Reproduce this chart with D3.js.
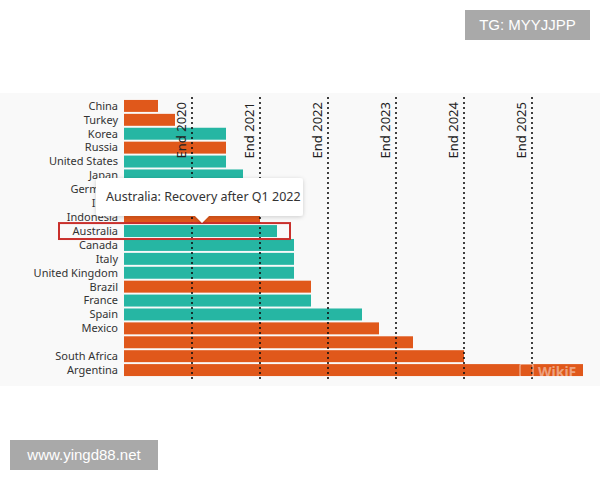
<!DOCTYPE html>
<html>
<head>
<meta charset="utf-8">
<script src="https://cdn.jsdelivr.net/npm/d3@7"></script>
<style>
  body { margin: 0; background: #fff; }
  text { font-family: "Noto Sans", "Open Sans", sans-serif; }
</style>
</head>
<body>
<script>
const svgWidth = 600;
const svgHeight = 480;

// countries, top to bottom (one label is missing in the source)
const countries = ["China", "Turkey", "Korea", "Russia", "United States", "Japan", "Germany", "India",
  "Indonesia", "Australia", "Canada", "Italy", "United Kingdom", "Brazil", "France", "Spain",
  "Mexico", "", "South Africa", "Argentina"];
// quarters after start of 2020 until output recovers
const recoveryQuarters = [2, 3, 6, 6, 6, 7, 8, 8, 8, 9, 10, 10, 10, 11, 11, 14, 15, 17, 20, 27];
// group: "adv" = advanced economy, "em" = emerging
const groups = ["em", "em", "adv", "em", "adv", "adv", "adv", "em", "em", "adv", "adv", "adv", "adv",
  "em", "adv", "adv", "em", "em", "em", "em"];
const yearMarks = [4, 8, 12, 16, 20, 24];
const yearLabels = ["End 2020", "End 2021", "End 2022", "End 2023", "End 2024", "End 2025"];

const colors = { em: "#e0581b", adv: "#26b6a3" };

const svg = d3.select("body").append("svg")
    .attr("width", svgWidth)
    .attr("height", svgHeight);

// panel background
svg.append("rect")
    .attr("x", 0).attr("y", 93)
    .attr("width", svgWidth).attr("height", 293)
    .attr("fill", "#f9f9f9");

const x = d3.scaleLinear().domain([0, 4]).range([124, 192]);
const y = d3.scaleBand().domain(d3.range(countries.length)).range([98, 378]).padding(0.14);

// bars
svg.selectAll("rect.bar").data(recoveryQuarters).join("rect")
    .attr("class", "bar")
    .attr("x", x(0))
    .attr("y", (d, i) => y(i))
    .attr("width", d => x(d) - x(0))
    .attr("height", y.bandwidth())
    .attr("fill", (d, i) => colors[groups[i]]);

// country labels
svg.selectAll("text.country").data(countries).join("text")
    .attr("class", "country")
    .attr("x", 118)
    .attr("y", (d, i) => y(i) + y.bandwidth() / 2)
    .attr("dy", "0.35em")
    .attr("text-anchor", "end")
    .attr("font-size", 11)
    .attr("fill", "#333")
    .text(d => d);

// year markers
svg.selectAll("line.year").data(yearMarks).join("line")
    .attr("class", "year")
    .attr("x1", d => x(d)).attr("x2", d => x(d))
    .attr("y1", 97).attr("y2", 379)
    .attr("stroke", "#111")
    .attr("stroke-width", 1.6)
    .attr("stroke-dasharray", "2,3");

svg.selectAll("text.year").data(yearMarks).join("text")
    .attr("class", "year")
    .attr("transform", d => `translate(${x(d) - 6},102) rotate(-90)`)
    .attr("text-anchor", "end")
    .attr("font-size", 13)
    .attr("fill", "#222")
    .text((d, i) => yearLabels[i]);

// highlight box around Australia
const ai = countries.indexOf("Australia");
svg.append("rect")
    .attr("x", 59).attr("y", y(ai) - 2)
    .attr("width", 231).attr("height", y.bandwidth() + 4)
    .attr("fill", "none")
    .attr("stroke", "#c9302c")
    .attr("stroke-width", 2);

// tooltip
const defs = svg.append("defs");
const f = defs.append("filter").attr("id", "shadow").attr("x", "-10%").attr("y", "-30%")
    .attr("width", "120%").attr("height", "160%");
f.append("feDropShadow").attr("dx", 0).attr("dy", 1).attr("stdDeviation", 2)
    .attr("flood-color", "#000").attr("flood-opacity", 0.18);

const tipX = 96, tipY = 178, tipW = 207, tipH = 38, tipPx = 202;
svg.append("path")
    .attr("d", `M${tipX},${tipY + 3} Q${tipX},${tipY} ${tipX + 3},${tipY}
      L${tipX + tipW - 3},${tipY} Q${tipX + tipW},${tipY} ${tipX + tipW},${tipY + 3}
      L${tipX + tipW},${tipY + tipH - 3} Q${tipX + tipW},${tipY + tipH} ${tipX + tipW - 3},${tipY + tipH}
      L${tipPx + 7},${tipY + tipH} L${tipPx},${tipY + tipH + 7} L${tipPx - 7},${tipY + tipH}
      L${tipX + 3},${tipY + tipH} Q${tipX},${tipY + tipH} ${tipX},${tipY + tipH - 3} Z`)
    .attr("fill", "#fff")
    .attr("filter", "url(#shadow)");

svg.append("text")
    .attr("x", 106).attr("y", tipY + tipH / 2)
    .attr("dy", "0.35em")
    .attr("font-size", 12.5)
    .attr("fill", "#333")
    .text("Australia: Recovery after Q1 2022");

// faint logo mark
svg.append("rect")
    .attr("x", 520).attr("y", 364).attr("width", 13).attr("height", 13).attr("rx", 2)
    .attr("fill", "none").attr("stroke", "#fff").attr("stroke-opacity", 0.45).attr("stroke-width", 1.5);
svg.append("text")
    .attr("x", 538).attr("y", 377)
    .attr("font-size", 14).attr("font-weight", "bold")
    .attr("fill", "#fff").attr("fill-opacity", 0.45)
    .text("WikiF");

// watermark labels
function tag(x0, y0, w, h, label) {
    svg.append("rect").attr("x", x0).attr("y", y0).attr("width", w).attr("height", h).attr("fill", "#a9a9a9");
    svg.append("text")
        .attr("x", x0 + w / 2).attr("y", y0 + h / 2)
        .attr("dy", "0.35em")
        .attr("text-anchor", "middle")
        .attr("font-size", 15)
        .attr("fill", "#fff")
        .style("font-family", "'Liberation Sans', Arial, sans-serif")
        .text(label);
}
tag(465, 10, 125, 30, "TG: MYYJJPP");
tag(10, 440, 148, 30, "www.yingd88.net");
</script>
</body>
</html>
